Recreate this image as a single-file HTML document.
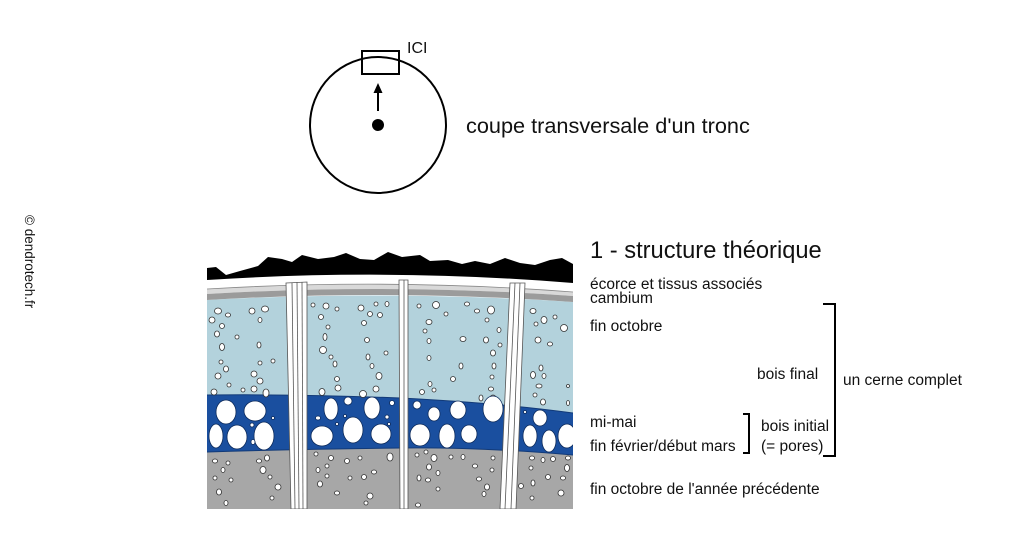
<!DOCTYPE html>
<html><head><meta charset="utf-8"><style>
html,body{margin:0;padding:0;background:#fff;}
body{width:1012px;height:552px;overflow:hidden;}
svg{display:block;}
text{font-family:"Liberation Sans",sans-serif;fill:#111;}
</style></head><body>
<svg width="1012" height="552" viewBox="0 0 1012 552" xmlns="http://www.w3.org/2000/svg">
<defs>
<clipPath id="panel"><rect x="207" y="240" width="366" height="269"/></clipPath>
</defs>
<!-- top circle -->
<circle cx="378" cy="125" r="68" fill="none" stroke="#000" stroke-width="2"/>
<rect x="362" y="51" width="37" height="23" fill="none" stroke="#000" stroke-width="2"/>
<line x1="378" y1="111" x2="378" y2="91" stroke="#000" stroke-width="2"/>
<polygon points="378,83 373.5,93 382.5,93" fill="#000"/>
<circle cx="378" cy="125" r="6" fill="#000"/>
<text x="407" y="53" font-size="16">ICI</text>
<text x="466" y="133" font-size="21.7">coupe transversale d'un tronc</text>
<text transform="translate(25,215) rotate(90)" font-size="13.5">© dendrotech.fr</text>

<!-- panel -->
<g clip-path="url(#panel)">
<rect x="207" y="420" width="366" height="89" fill="#a7a7a7"/>
<!-- light blue -->
<path d="M207,300 Q390,290 573,302 L573,413 Q500,403 400,398 Q300,394 207,395 Z" fill="#b3d2dc"/>
<!-- dark blue -->
<path d="M207,395 Q300,394 400,398 Q500,403 573,413 L573,455 Q480,447 400,448 Q300,449 207,452 Z" fill="#1a4f9f"/>
<path d="M207,395 Q300,394 400,398 Q500,403 573,413" fill="none" stroke="#123a78" stroke-width="1"/>
<path d="M207,452 Q300,449 400,448 Q480,447 573,455" fill="none" stroke="#123a78" stroke-width="1"/>
<!-- bands -->
<path d="M207,280 Q390,268 573,283 L573,292 Q390,278 207,289 Z" fill="#fff"/>
<path d="M207,289 Q390,278 573,292 L573,296 Q390,283 207,294 Z" fill="#d9d9d9"/>
<path d="M207,294 Q390,283 573,296 L573,302 Q390,289 207,300 Z" fill="#9b9b9b"/>
<path d="M207,289 Q390,278 573,292" fill="none" stroke="#888" stroke-width="0.8"/>
<!-- bark -->
<path d="M207,268 L216,267 L226,275 L240,271 L258,266 L268,257 L282,259 L292,262 L302,255 L318,259 L334,257 L346,253 L360,259 L374,260 L388,252 L402,257 L420,255 L430,261 L448,260 L462,264 L475,261 L490,264 L505,258 L520,263 L535,265 L550,260 L562,258 L573,264 L573,283 Q390,268 207,280 Z" fill="#000"/>

<!-- light blue pores -->
<g fill="#fff" stroke="#333" stroke-width="0.8">
<ellipse cx="218" cy="311" rx="3.5" ry="3"/><ellipse cx="228" cy="315" rx="2.5" ry="2"/><ellipse cx="212" cy="320" rx="3" ry="3"/><ellipse cx="222" cy="326" rx="2.5" ry="2.5"/><ellipse cx="217" cy="334" rx="2.5" ry="3"/><ellipse cx="237" cy="337" rx="2" ry="2"/><ellipse cx="222" cy="347" rx="2.5" ry="3.5"/><ellipse cx="252" cy="311" rx="3" ry="3"/><ellipse cx="265" cy="309" rx="3.5" ry="3"/><ellipse cx="260" cy="320" rx="2" ry="2.5"/><ellipse cx="259" cy="345" rx="2" ry="3"/><ellipse cx="221" cy="362" rx="2" ry="2"/><ellipse cx="226" cy="369" rx="2.5" ry="3"/><ellipse cx="218" cy="376" rx="3" ry="3"/><ellipse cx="229" cy="385" rx="2" ry="2"/><ellipse cx="214" cy="392" rx="3" ry="3"/><ellipse cx="254" cy="374" rx="3" ry="3"/><ellipse cx="260" cy="363" rx="2" ry="2"/><ellipse cx="273" cy="361" rx="2" ry="2"/><ellipse cx="260" cy="381" rx="3" ry="3"/><ellipse cx="254" cy="389" rx="3" ry="3"/><ellipse cx="266" cy="393" rx="3" ry="4"/><ellipse cx="243" cy="390" rx="2" ry="2"/>
<ellipse cx="313" cy="305" rx="2" ry="2"/><ellipse cx="326" cy="306" rx="3" ry="3"/><ellipse cx="337" cy="309" rx="2" ry="2"/><ellipse cx="361" cy="308" rx="3" ry="3"/><ellipse cx="376" cy="304" rx="2" ry="2"/><ellipse cx="387" cy="304" rx="2" ry="2.5"/><ellipse cx="370" cy="314" rx="2.5" ry="2.5"/><ellipse cx="380" cy="315" rx="2.5" ry="2.5"/><ellipse cx="321" cy="317" rx="2.5" ry="2.5"/><ellipse cx="328" cy="327" rx="2" ry="2"/><ellipse cx="364" cy="323" rx="2.5" ry="2.5"/><ellipse cx="325" cy="337" rx="2" ry="3.5"/><ellipse cx="367" cy="340" rx="2.5" ry="2.5"/><ellipse cx="323" cy="350" rx="3.5" ry="3.5"/><ellipse cx="386" cy="353" rx="2" ry="2"/><ellipse cx="331" cy="357" rx="2" ry="2"/><ellipse cx="335" cy="364" rx="2" ry="3"/><ellipse cx="368" cy="357" rx="2" ry="3"/><ellipse cx="372" cy="366" rx="2" ry="2.5"/><ellipse cx="337" cy="379" rx="2.5" ry="2.5"/><ellipse cx="338" cy="388" rx="3" ry="3"/><ellipse cx="379" cy="376" rx="3" ry="3.5"/><ellipse cx="376" cy="389" rx="3" ry="3"/><ellipse cx="322" cy="392" rx="3" ry="3.5"/><ellipse cx="363" cy="394" rx="3.5" ry="3.5"/>
<ellipse cx="419" cy="306" rx="2" ry="2"/><ellipse cx="436" cy="305" rx="3.5" ry="3.5"/><ellipse cx="446" cy="314" rx="2" ry="2"/><ellipse cx="467" cy="304" rx="2.5" ry="2"/><ellipse cx="477" cy="311" rx="2.5" ry="2"/><ellipse cx="491" cy="310" rx="3.5" ry="4"/><ellipse cx="487" cy="320" rx="2" ry="2"/><ellipse cx="429" cy="322" rx="3" ry="2.5"/><ellipse cx="425" cy="331" rx="2" ry="2"/><ellipse cx="429" cy="341" rx="2" ry="2.5"/><ellipse cx="499" cy="330" rx="2" ry="2.5"/><ellipse cx="463" cy="339" rx="3" ry="2.5"/><ellipse cx="486" cy="340" rx="2.5" ry="3"/><ellipse cx="500" cy="345" rx="2" ry="2"/><ellipse cx="493" cy="353" rx="2.5" ry="3"/><ellipse cx="429" cy="358" rx="2" ry="2.5"/><ellipse cx="461" cy="366" rx="2" ry="3"/><ellipse cx="494" cy="366" rx="2" ry="3"/><ellipse cx="492" cy="377" rx="2" ry="2"/><ellipse cx="453" cy="379" rx="2.5" ry="2.5"/><ellipse cx="430" cy="384" rx="2" ry="2.5"/><ellipse cx="434" cy="390" rx="2" ry="2"/><ellipse cx="422" cy="392" rx="2.5" ry="2.5"/><ellipse cx="481" cy="398" rx="2" ry="3"/><ellipse cx="493" cy="398" rx="3" ry="3"/><ellipse cx="491" cy="389" rx="2.5" ry="2"/>
<ellipse cx="533" cy="311" rx="3" ry="2.5"/><ellipse cx="544" cy="320" rx="3" ry="3.5"/><ellipse cx="555" cy="317" rx="2" ry="2"/><ellipse cx="564" cy="328" rx="3.5" ry="3.5"/><ellipse cx="536" cy="324" rx="2" ry="2"/><ellipse cx="538" cy="340" rx="3" ry="3"/><ellipse cx="550" cy="344" rx="2.5" ry="2"/><ellipse cx="541" cy="368" rx="2" ry="3"/><ellipse cx="533" cy="375" rx="2.5" ry="3.5"/><ellipse cx="544" cy="376" rx="2" ry="2.5"/><ellipse cx="539" cy="386" rx="3" ry="2"/><ellipse cx="535" cy="395" rx="2" ry="2"/><ellipse cx="543" cy="402" rx="2.5" ry="3"/><ellipse cx="568" cy="386" rx="1.5" ry="1.5"/><ellipse cx="568" cy="403" rx="1.5" ry="2.5"/>
</g>
<!-- blue pores -->
<g fill="#fff" stroke="#0d2a5a" stroke-width="0.8">
<ellipse cx="226" cy="412" rx="10" ry="12"/><ellipse cx="255" cy="411" rx="11" ry="10"/><ellipse cx="216" cy="436" rx="7" ry="12"/><ellipse cx="237" cy="437" rx="10" ry="12"/><ellipse cx="264" cy="436" rx="10" ry="14"/><ellipse cx="252" cy="425" rx="2" ry="2"/><ellipse cx="253" cy="442" rx="2" ry="2.5"/><ellipse cx="273" cy="418" rx="1.5" ry="1.5"/>
<ellipse cx="331" cy="409" rx="7" ry="11"/><ellipse cx="348" cy="401" rx="4" ry="4"/><ellipse cx="372" cy="408" rx="8" ry="11"/><ellipse cx="322" cy="436" rx="11" ry="10"/><ellipse cx="353" cy="430" rx="10" ry="13"/><ellipse cx="381" cy="434" rx="10" ry="10"/><ellipse cx="392" cy="403" rx="2.5" ry="2.5"/><ellipse cx="318" cy="418" rx="2.5" ry="2"/><ellipse cx="345" cy="416" rx="1.5" ry="1.5"/><ellipse cx="387" cy="417" rx="2" ry="2"/><ellipse cx="389" cy="424" rx="1.5" ry="1.5"/><ellipse cx="337" cy="424" rx="1.5" ry="1.5"/>
<ellipse cx="417" cy="405" rx="4" ry="4"/><ellipse cx="434" cy="414" rx="6" ry="7"/><ellipse cx="458" cy="410" rx="8" ry="9"/><ellipse cx="493" cy="409" rx="10" ry="13"/><ellipse cx="420" cy="435" rx="10" ry="11"/><ellipse cx="447" cy="436" rx="8" ry="12"/><ellipse cx="469" cy="434" rx="8" ry="9"/>
<ellipse cx="540" cy="418" rx="7" ry="8"/><ellipse cx="530" cy="436" rx="7" ry="11"/><ellipse cx="549" cy="441" rx="7" ry="11"/><ellipse cx="567" cy="436" rx="9" ry="12"/><ellipse cx="525" cy="412" rx="1.5" ry="1.5"/>
</g>
<!-- grey pores -->
<g fill="#fff" stroke="#333" stroke-width="0.8">
<ellipse cx="215" cy="461" rx="2.5" ry="2"/><ellipse cx="228" cy="463" rx="2" ry="2"/><ellipse cx="259" cy="461" rx="2.5" ry="2"/><ellipse cx="267" cy="458" rx="2.5" ry="3"/><ellipse cx="223" cy="470" rx="2" ry="2.5"/><ellipse cx="263" cy="470" rx="3" ry="3.5"/><ellipse cx="215" cy="478" rx="2" ry="2"/><ellipse cx="231" cy="480" rx="2" ry="2"/><ellipse cx="270" cy="477" rx="2" ry="2"/><ellipse cx="278" cy="487" rx="3" ry="3"/><ellipse cx="219" cy="492" rx="2.5" ry="3"/><ellipse cx="226" cy="503" rx="2" ry="2.5"/><ellipse cx="272" cy="498" rx="2" ry="2"/>
<ellipse cx="316" cy="454" rx="2" ry="2"/><ellipse cx="331" cy="458" rx="2.5" ry="2.5"/><ellipse cx="347" cy="461" rx="2.5" ry="2.5"/><ellipse cx="360" cy="458" rx="2" ry="2"/><ellipse cx="390" cy="457" rx="3" ry="4"/><ellipse cx="327" cy="466" rx="2" ry="2"/><ellipse cx="318" cy="470" rx="2" ry="2.5"/><ellipse cx="327" cy="476" rx="2" ry="2"/><ellipse cx="350" cy="478" rx="2" ry="2"/><ellipse cx="364" cy="477" rx="2.5" ry="2.5"/><ellipse cx="374" cy="472" rx="2.5" ry="2"/><ellipse cx="320" cy="484" rx="2.5" ry="3"/><ellipse cx="337" cy="493" rx="2.5" ry="2"/><ellipse cx="370" cy="496" rx="3" ry="3"/><ellipse cx="366" cy="503" rx="2" ry="2"/>
<ellipse cx="417" cy="455" rx="2" ry="2"/><ellipse cx="426" cy="452" rx="2" ry="2"/><ellipse cx="434" cy="458" rx="3" ry="3.5"/><ellipse cx="451" cy="457" rx="2" ry="2"/><ellipse cx="463" cy="457" rx="2" ry="2.5"/><ellipse cx="493" cy="458" rx="2" ry="2"/><ellipse cx="429" cy="467" rx="2.5" ry="3"/><ellipse cx="438" cy="473" rx="2" ry="2.5"/><ellipse cx="475" cy="466" rx="2.5" ry="2"/><ellipse cx="492" cy="470" rx="2" ry="2"/><ellipse cx="419" cy="478" rx="2" ry="3"/><ellipse cx="428" cy="480" rx="2.5" ry="2"/><ellipse cx="479" cy="479" rx="2.5" ry="2"/><ellipse cx="487" cy="487" rx="2.5" ry="3"/><ellipse cx="438" cy="489" rx="2" ry="2"/><ellipse cx="484" cy="494" rx="2" ry="2.5"/><ellipse cx="418" cy="505" rx="2.5" ry="2"/>
<ellipse cx="532" cy="458" rx="2.5" ry="2"/><ellipse cx="543" cy="460" rx="2" ry="2.5"/><ellipse cx="553" cy="459" rx="2.5" ry="2.5"/><ellipse cx="568" cy="458" rx="2.5" ry="2"/><ellipse cx="531" cy="468" rx="2" ry="2"/><ellipse cx="567" cy="468" rx="2.5" ry="3.5"/><ellipse cx="548" cy="477" rx="2.5" ry="2.5"/><ellipse cx="563" cy="478" rx="2.5" ry="2"/><ellipse cx="521" cy="486" rx="2.5" ry="2.5"/><ellipse cx="533" cy="483" rx="2" ry="3"/><ellipse cx="561" cy="493" rx="3" ry="3"/><ellipse cx="532" cy="498" rx="2" ry="2"/>
</g>
<!-- rays -->
<g stroke="#555" stroke-width="0.8">
<polygon points="286,283 307,282 307,509 291,509" fill="#fff"/>
<line x1="292" y1="283" x2="295" y2="509"/><line x1="297" y1="282" x2="299" y2="509"/><line x1="302" y1="282" x2="303" y2="509"/>
<polygon points="399,280 408,280 408,509 400,509" fill="#fff"/>
<line x1="404" y1="280" x2="404" y2="509"/>
<polygon points="510,283 525,283 516,509 500,509" fill="#fff"/>
<line x1="515" y1="283" x2="505" y2="509"/><line x1="520" y1="283" x2="511" y2="509"/>
</g>
</g>

<!-- labels -->
<text x="590" y="258" font-size="23.7">1 - structure théorique</text>
<g font-size="15.5">
<text x="590" y="289">écorce et tissus associés</text>
<text x="590" y="303">cambium</text>
<text x="590" y="331">fin octobre</text>
<text x="757" y="379">bois final</text>
<text x="843" y="385">un cerne complet</text>
<text x="590" y="427">mi-mai</text>
<text x="590" y="451">fin février/début mars</text>
<text x="761" y="431">bois initial</text>
<text x="761" y="451">(= pores)</text>
<text x="590" y="494">fin octobre de l'année précédente</text>
</g>
<path d="M823,304 L835,304 L835,456 L823,456" fill="none" stroke="#000" stroke-width="2"/>
<path d="M743,414 L749,414 L749,453 L743,453" fill="none" stroke="#000" stroke-width="2"/>
</svg>
</body></html>
